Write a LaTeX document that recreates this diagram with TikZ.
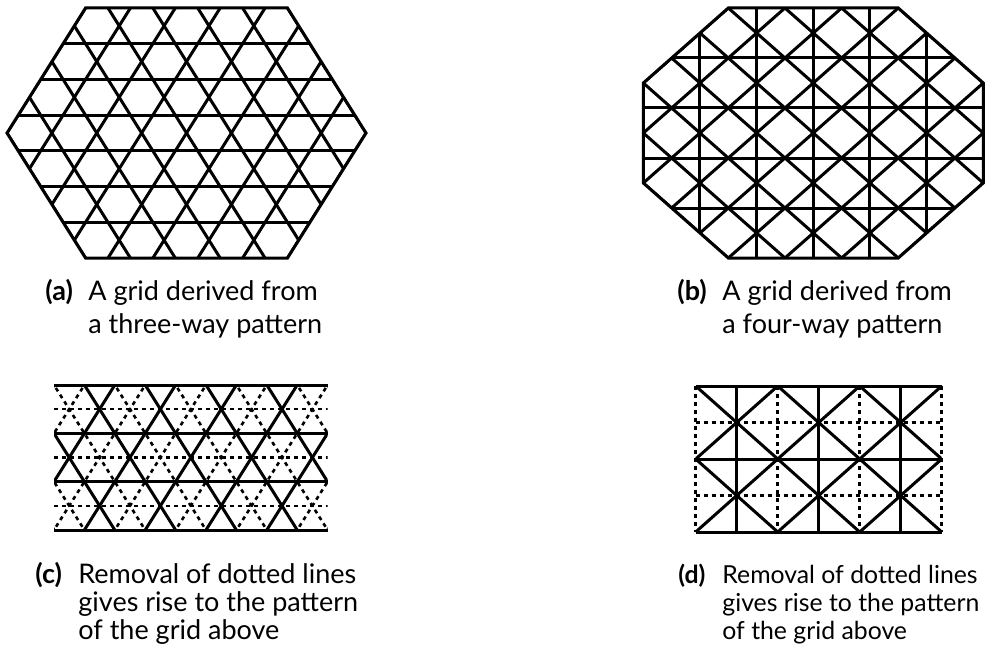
\documentclass[tikz,border=0pt]{standalone}
\usepackage{fontspec}
\setmainfont{Lato}
\usepackage{tikz}

\begin{document}
\begin{tikzpicture}[x=0.5pt, y=-0.5pt,
  solidline/.style={line width=1.5pt},
  dotline/.style={line width=1.3pt, dash pattern=on 2pt off 2pt},
  caption/.style={anchor=base west, inner sep=0pt, font=\fontsize{13.5}{14.2}\selectfont},
  widecaption/.style={caption, font=\fontsize{13.5}{16.5}\selectfont}]
\useasboundingbox (0,0) rectangle (985,647);

\begin{scope}[shift={(-71.54,8)}, x=11.22pt, y=-8.93pt]
\begin{scope}
\clip (3.5,7) -- (7,0) -- (16,0) -- (19.5,7) -- (16,14) -- (7,14) -- cycle;
\foreach \r in {0,2,...,14} \draw[solidline] (0,\r) -- (23,\r);
\foreach \p in {7,9,...,23} \draw[solidline] ({\p+0.5},-1) -- ({\p-7.5},15);
\foreach \q in {0,2,...,16} \draw[solidline] ({\q-0.5},-1) -- ({\q+7.5},15);
\end{scope}
\draw[solidline] (3.5,7) -- (7,0) -- (16,0) -- (19.5,7) -- (16,14) -- (7,14) -- cycle;
\end{scope}

\begin{scope}[shift={(643.3,8)}, x=28.33pt, y=-25pt]
\begin{scope}
\clip (1.5,0) -- (4.5,0) -- (6,1.5) -- (6,3.5) -- (4.5,5) -- (1.5,5) -- (0,3.5) -- (0,1.5) -- cycle;
\foreach \u in {1,...,5} \draw[solidline] (\u,0) -- (\u,5);
\foreach \v in {1,...,4} \draw[solidline] (0,\v) -- (6,\v);
\foreach \k in {1,...,9} \draw[solidline] ({\k+0.5},0) -- ({\k-4.5},5);
\foreach \k in {-4,...,4} \draw[solidline] ({\k+0.5},0) -- ({\k+5.5},5);
\end{scope}
\draw[solidline] (1.5,0) -- (4.5,0) -- (6,1.5) -- (6,3.5) -- (4.5,5) -- (1.5,5) -- (0,3.5) -- (0,1.5) -- cycle;
\end{scope}

\begin{scope}[shift={(54,385)}, x=15.2pt, y=-12.083pt]
\begin{scope}
\clip (0,0) rectangle (9,6);
\foreach \r in {1,3,5} \draw[dotline] (0,\r) -- (9,\r);
\foreach \q in {-4,-2,...,10} \draw[dotline] ({\q-0.5},-1) -- ({\q+3.5},7);
\foreach \p in {-1,1,...,13} \draw[dotline] ({\p+0.5},-1) -- ({\p-3.5},7);
\foreach \q in {-3,-1,...,9} \draw[solidline] ({\q-0.5},-1) -- ({\q+3.5},7);
\foreach \p in {0,2,...,12} \draw[solidline] ({\p+0.5},-1) -- ({\p-3.5},7);
\end{scope}
\foreach \r in {0,2,4,6} \draw[solidline] (0,\r) -- (9,\r);
\end{scope}

\begin{scope}[shift={(695.7,386)}, x=20.5pt, y=-18.25pt]
\foreach \i in {0,2,4,6} \draw[dotline] (\i,0) -- (\i,4);
\foreach \j in {1,3} \draw[dotline] (0,\j) -- (6,\j);
\begin{scope}
\clip (0,0) rectangle (6,4);
\foreach \c in {-2,0,2,4} \draw[solidline] (\c,0) -- ({\c+4},4);
\foreach \c in {2,4,6,8} \draw[solidline] (\c,0) -- ({\c-4},4);
\end{scope}
\foreach \i in {1,3,5} \draw[solidline] (\i,0) -- (\i,4);
\foreach \j in {0,2,4} \draw[solidline] (0,\j) -- (6,\j);
\end{scope}

\node[widecaption] (tagA) at (45,300) {\textbf{(a)}};
\node[widecaption] (capA) at (88,300) {\begin{tabular}[t]{@{}l@{}}A grid derived from\\a three-way pattern\end{tabular}};
\node[widecaption] (tagB) at (677,300) {\textbf{(b)}};
\node[widecaption] (capB) at (722,300) {\begin{tabular}[t]{@{}l@{}}A grid derived from\\a four-way pattern\end{tabular}};
\node[caption] (tagC) at (35,583) {\textbf{(c)}};
\node[caption] (capC) at (78,583) {\begin{tabular}[t]{@{}l@{}}Removal of dotted lines\\gives rise to the pattern\\of the grid above\end{tabular}};
\node[caption, font=\fontsize{12.4}{14.2}\selectfont] (tagD) at (678,583) {\textbf{(d)}};
\node[caption, font=\fontsize{12.4}{14.2}\selectfont] (capD) at (722,583) {\begin{tabular}[t]{@{}l@{}}Removal of dotted lines\\gives rise to the pattern\\of the grid above\end{tabular}};
\end{tikzpicture}
\end{document}
